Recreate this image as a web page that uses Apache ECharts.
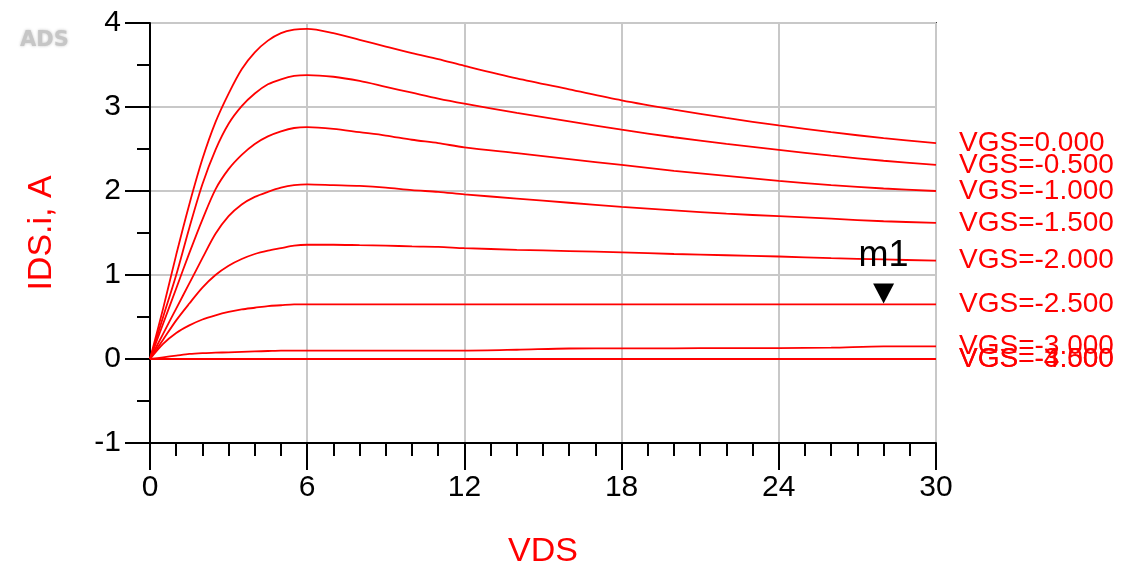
<!DOCTYPE html>
<html>
<head>
<meta charset="utf-8">
<script src="https://cdn.jsdelivr.net/npm/echarts@6/dist/echarts.min.js"></script>
<style>
html,body{margin:0;padding:0;background:#fff;}
#chart{width:1143px;height:574px;}
</style>
</head>
<body>
<div id="chart"></div>
<script>
// ---- data ----
var vds = [0,0.5,1,1.5,2,2.5,3,3.5,4,4.5,5,5.5,6,7,8,9,10,11,12,14,16,18,20,22,24,26,28,30];
var vgsValues = [0, -0.5, -1.0, -1.5, -2.0, -2.5, -3.0, -3.5, -4.0];
var ids_vgs_0   = [0,0.6,1.24,1.84,2.38,2.82,3.16,3.45,3.65,3.79,3.88,3.92,3.93,3.88,3.80,3.72,3.64,3.57,3.49,3.34,3.21,3.08,2.97,2.87,2.78,2.70,2.63,2.57];
var ids_vgs_m05 = [0,0.5,1.0,1.56,2.08,2.49,2.8,3.01,3.16,3.27,3.33,3.37,3.38,3.36,3.31,3.24,3.17,3.10,3.04,2.93,2.83,2.73,2.64,2.56,2.49,2.42,2.36,2.31];
var ids_vgs_m10 = [0,0.42,0.84,1.26,1.66,2.02,2.26,2.43,2.56,2.65,2.71,2.75,2.76,2.74,2.70,2.66,2.61,2.57,2.52,2.45,2.38,2.31,2.24,2.18,2.12,2.07,2.03,2.00];
var ids_vgs_m15 = [0,0.3,0.6,0.9,1.2,1.49,1.7,1.84,1.93,1.99,2.04,2.07,2.08,2.07,2.06,2.04,2.01,1.99,1.96,1.91,1.86,1.81,1.77,1.73,1.70,1.67,1.64,1.62];
var ids_vgs_m20 = [0,0.23,0.46,0.66,0.85,1.0,1.11,1.19,1.25,1.29,1.32,1.35,1.36,1.36,1.355,1.35,1.34,1.335,1.32,1.30,1.285,1.27,1.25,1.235,1.22,1.20,1.185,1.17];
var ids_vgs_m25 = [0,0.18,0.31,0.4,0.47,0.52,0.56,0.59,0.61,0.63,0.64,0.65,0.65,0.65,0.65,0.65,0.65,0.65,0.65,0.65,0.65,0.65,0.65,0.65,0.65,0.65,0.65,0.65];
var ids_vgs_m30 = [0,0.02,0.04,0.06,0.07,0.075,0.08,0.085,0.09,0.095,0.1,0.1,0.1,0.1,0.1,0.1,0.1,0.1,0.1,0.11,0.125,0.127,0.127,0.13,0.13,0.135,0.15,0.15];
var ids_vgs_m35 = [0,0,0,0,0,0,0,0,0,0,0,0,0,0,0,0,0,0,0,0,0,0,0,0,0,0,0,0];
var ids_vgs_m40 = [0,0,0,0,0,0,0,0,0,0,0,0,0,0,0,0,0,0,0,0,0,0,0,0,0,0,0,0];
var idsSets = [ids_vgs_0, ids_vgs_m05, ids_vgs_m10, ids_vgs_m15, ids_vgs_m20, ids_vgs_m25, ids_vgs_m30, ids_vgs_m35, ids_vgs_m40];
var markerName = 'm1';
var markerVds = 28;
var markerSeriesIndex = 5; // VGS=-2.5
var xTitle = 'VDS';
var yTitle = 'IDS.i, A';
var logoText = 'ADS';

// ---- chart ----
var FONT = '"Liberation Sans", Arial, sans-serif';
var RED = '#ff0000';
var chart = echarts.init(document.getElementById('chart'), null, {renderer: 'canvas'});

var series = vgsValues.map(function (v, i) {
  var s = {
    name: 'VGS=' + v.toFixed(3),
    type: 'line',
    data: vds.map(function (x, k) { return [x, idsSets[i][k]]; }),
    showSymbol: false,
    smooth: 0.3,
    lineStyle: {color: RED, width: 1.8},
    itemStyle: {color: RED},
    silent: true,
    z: 3,
    endLabel: {
      show: true,
      formatter: '{a}',
      color: RED,
      fontSize: 28,
      fontFamily: FONT,
      distance: 23
    }
  };
  if (i === markerSeriesIndex) {
    var k = vds.indexOf(markerVds);
    s.markPoint = {
      symbol: 'triangle',
      symbolRotate: 180,
      symbolSize: [21, 20],
      symbolOffset: [0, -11],
      itemStyle: {color: '#000'},
      label: {
        show: true,
        position: 'top',
        distance: 9,
        formatter: markerName,
        color: '#000',
        fontSize: 36,
        fontFamily: FONT
      },
      data: [{coord: [vds[k], idsSets[i][k]]}]
    };
  }
  return s;
});

var option = {
  animation: false,
  backgroundColor: '#fff',
  grid: {
    left: 150, right: 207, top: 23, bottom: 129,
    show: true, borderColor: '#404040', borderWidth: 2, backgroundColor: 'transparent'
  },
  graphic: [{
    type: 'text', left: 20, top: 30,
    style: {text: logoText, fill: '#c6c6c6', font: 'bold 21px "DejaVu Sans", sans-serif',
      textShadowColor: 'rgba(190,190,190,0.9)', textShadowBlur: 3}
  }],
  xAxis: {
    type: 'value', min: 0, max: 30, interval: 6,
    name: xTitle, nameLocation: 'middle', nameGap: 92,
    nameTextStyle: {color: RED, fontSize: 34, fontFamily: FONT},
    axisLine: {show: true, onZero: false, lineStyle: {color: '#000', width: 2}},
    axisTick: {show: true, inside: false, length: 27, lineStyle: {color: '#000', width: 2}},
    minorTick: {show: true, splitNumber: 6, length: 13, lineStyle: {color: '#000', width: 2}},
    axisLabel: {color: '#000', fontSize: 30, fontFamily: FONT, margin: 30},
    splitLine: {show: true, lineStyle: {color: '#c8c8c8', width: 2}}
  },
  yAxis: {
    type: 'value', min: -1, max: 4, interval: 1,
    name: yTitle, nameLocation: 'middle', nameGap: 91,
    nameTextStyle: {color: RED, fontSize: 34, fontFamily: FONT},
    axisLine: {show: true, onZero: false, lineStyle: {color: '#000', width: 2}},
    axisTick: {show: true, inside: false, length: 25, lineStyle: {color: '#000', width: 2}},
    minorTick: {show: true, splitNumber: 2, length: 13, lineStyle: {color: '#000', width: 2}},
    axisLabel: {color: '#000', fontSize: 30, fontFamily: FONT, margin: 29},
    splitLine: {show: true, lineStyle: {color: '#c8c8c8', width: 2}}
  },
  series: series
};
chart.setOption(option);
</script>
</body>
</html>
